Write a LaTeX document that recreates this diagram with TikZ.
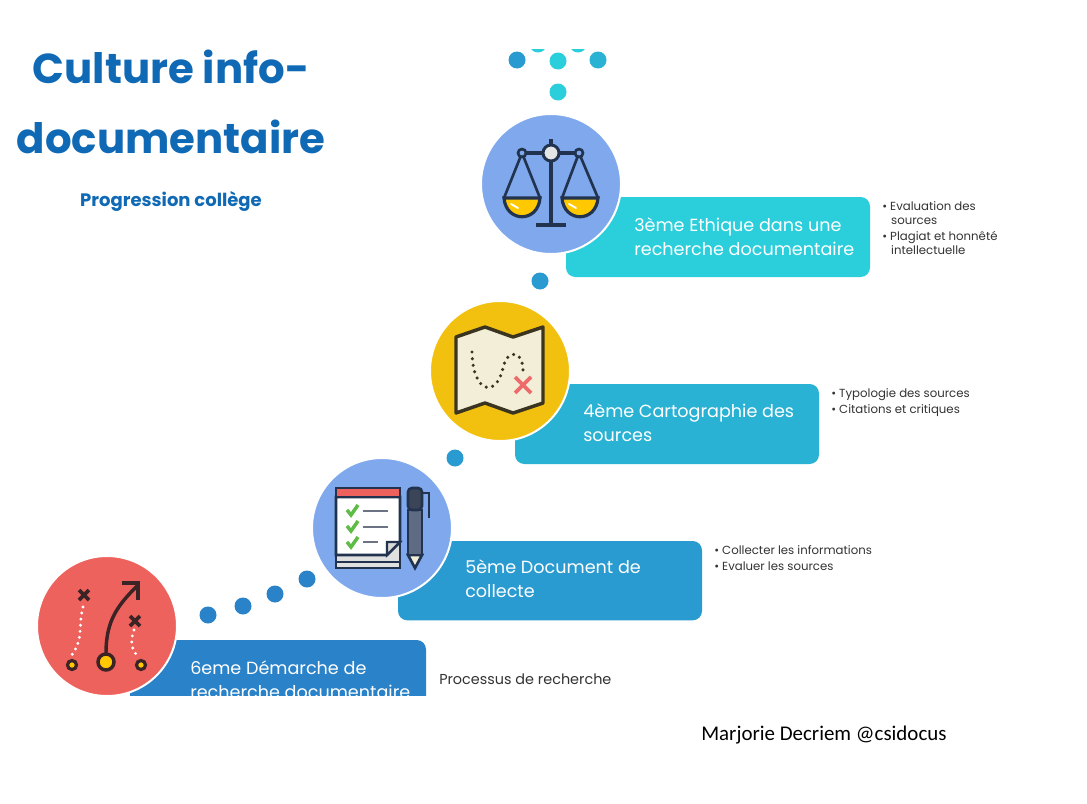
\documentclass[tikz,border=0pt]{standalone}
\usepackage{fontspec}
\setmainfont{Poppins}
\newfontfamily\notefont{Carlito}
\definecolor{titleblue}{HTML}{0F69B4}
\definecolor{barA}{HTML}{2BCEDB}
\definecolor{barB}{HTML}{29B2D3}
\definecolor{barC}{HTML}{2A9BD0}
\definecolor{barD}{HTML}{2A82C8}
\definecolor{discblue}{HTML}{7FA9EC}
\definecolor{discyellow}{HTML}{F2C10F}
\definecolor{discred}{HTML}{EE625D}
\definecolor{inkblue}{HTML}{22334F}
\definecolor{inkbrown}{HTML}{3A3420}
\definecolor{inkred}{HTML}{3B2326}
\definecolor{pangold}{HTML}{FFC800}
\definecolor{mapcream}{HTML}{F3EED8}
\definecolor{crossred}{HTML}{EE6B6B}
\definecolor{tickgreen}{HTML}{5DBB46}
\definecolor{sidegrey}{HTML}{333333}
\definecolor{pendark}{HTML}{3C4557}
\definecolor{penmid}{HTML}{5F6B82}
\definecolor{linegrey}{HTML}{6B7385}
\begin{document}
\begin{tikzpicture}[
        x=0.75pt, y=-0.75pt,
        disc/.style={circle, draw=white, line width=1.5pt, minimum size=105pt, inner sep=0pt, outer sep=0pt},
        bar/.style={rectangle, rounded corners=7pt, anchor=north west, minimum width=228pt, minimum height=60pt, inner sep=0pt, outer sep=0pt},
        dotnode/.style={circle, minimum size=12.75pt, inner sep=0pt, outer sep=0pt},
        barlabel/.style={anchor=west, align=left, text=white, inner sep=0pt, font=\fontsize{13.2pt}{18pt}\selectfont},
        sidelabel/.style={anchor=north west, align=left, text=sidegrey, inner sep=0pt, font=\fontsize{8.8pt}{10.6pt}\selectfont},
        titlelabel/.style={text=titleblue, inner sep=0pt, font=\fontsize{31.4pt}{40pt}\selectfont\bfseries}
      ]
        \fill[white] (0,0) rectangle (1087,803);
        \useasboundingbox (0,0) rectangle (1087,803);

        \begin{scope}
        \clip (0,49) rectangle (1087,695);

        % Dots along the stairs
        \node[dotnode, fill=barA] (topA) at (538,44) {};
        \node[dotnode, fill=barA] (topB) at (578,44) {};
        \node[dotnode, fill=barC] (topC) at (517,60) {};
        \node[dotnode, fill=barA] (topD) at (558,61) {};
        \node[dotnode, fill=barB] (topE) at (598,60) {};
        \node[dotnode, fill=barA] (topF) at (558,92) {};
        \node[dotnode, fill=barC] (stepA) at (540,281) {};
        \node[dotnode, fill=barC] (stepB) at (455,458) {};
        \node[dotnode, fill=barD] (stepC) at (307,579) {};
        \node[dotnode, fill=barD] (stepD) at (275,594) {};
        \node[dotnode, fill=barD] (stepE) at (243,606) {};
        \node[dotnode, fill=barD] (stepF) at (208,615) {};

        % The four bars
        \node[bar, fill=barA] (barthree) at (566,197) {};
        \node[bar, fill=barB] (barfour) at (515,384) {};
        \node[bar, fill=barC, minimum height=59.5pt] (barfive) at (398,541) {};
        \node[bar, fill=barD, minimum width=222pt] (barsix) at (130,640) {};

        % The four discs
        \node[disc, fill=discblue] (discscale) at (551,184) {};
        \node[disc, fill=discyellow] (discmap) at (500,371) {};
        \node[disc, fill=discblue] (disclist) at (382,528) {};
        \node[disc, fill=discred] (disctactic) at (107,626) {};

        % Scale
        \draw[inkblue, line width=2.4pt] (551,139) -- (551,225);
        \draw[inkblue, line width=2.4pt] (536,225) -- (566,225);
        \draw[inkblue, line width=2.4pt] (522,153) -- (579,153);
        \draw[inkblue, line width=2pt] (504,198) -- (522,153) -- (540,198);
        \draw[inkblue, line width=2pt] (562,198) -- (579,153) -- (598,198);
        \draw[inkblue, line width=2.4pt, fill=pangold] (504,198) .. controls (506,223) and (538,223) .. (540,198) -- cycle;
        \draw[inkblue, line width=2.4pt, fill=pangold] (562,198) .. controls (564,223) and (596,223) .. (598,198) -- cycle;
        \draw[white, line width=1.4pt, line cap=round] (511,204) -- (518,208);
        \draw[white, line width=1.4pt, line cap=round] (569,204) -- (576,208);
        \draw[inkblue, line width=2pt, fill=discblue] (522,153) circle (4);
        \draw[inkblue, line width=2pt, fill=discblue] (579,153) circle (4);
        \draw[inkblue, line width=2.2pt, fill=black!10] (551,153) circle (8);

        % Map
        \draw[inkbrown, line width=2.6pt, line join=round, fill=mapcream] (456,337) -- (485,327) -- (513,337) -- (543,327) -- (543,403) -- (513,413) -- (485,403) -- (456,413) -- cycle;
        \draw[inkbrown, line width=2.6pt, line cap=round, dash pattern=on 0pt off 5pt] (472,352) .. controls (473,395) and (497,397) .. (503,368) .. controls (507,348) and (524,350) .. (523,373);
        \draw[crossred, line width=2.8pt] (515,377) -- (531,393) (531,377) -- (515,393);

        % Checklist
        \draw[inkblue, line width=2.2pt, fill=black!12] (336,488) rectangle (400,568);
        \draw[inkblue, line width=2pt, fill=white] (336,497) -- (400,497) -- (400,542) -- (387,555) -- (336,555) -- cycle;
        \draw[inkblue, line width=1.8pt, fill=black!15] (387,555) -- (387,542) -- (400,542) -- cycle;
        \draw[inkblue, line width=2.2pt, fill=discred] (336,488) rectangle (400,497);
        \draw[inkblue, line width=1.4pt] (336,562) -- (400,562);
        \draw[tickgreen, line width=2.6pt] (347,510) -- (351,515) -- (358,505);
        \draw[tickgreen, line width=2.6pt] (347,526) -- (351,531) -- (358,521);
        \draw[tickgreen, line width=2.6pt] (347,542) -- (351,547) -- (358,537);
        \draw[linegrey, line width=2.2pt] (363,511) -- (388,511);
        \draw[linegrey, line width=2.2pt] (363,527) -- (388,527);
        \draw[linegrey, line width=2.2pt] (363,542) -- (378,542);

        % Pen
        \draw[inkblue, line width=1.8pt] (422,493) -- (429,493) -- (429,518);
        \draw[inkblue, line width=2pt, fill=mapcream] (408,555) -- (415,568) -- (422,555) -- cycle;
        \draw[inkblue, line width=2pt, fill=penmid] (408,510) rectangle (422,555);
        \draw[inkblue, line width=2pt, rounded corners=3pt, fill=pendark] (408,510) -- (408,488) -- (422,488) -- (422,510) -- cycle;

        % Tactics
        \draw[white, line width=2.4pt, line cap=round, dash pattern=on 0pt off 4.6pt] (83,607) .. controls (78,625) and (84,640) .. (71,656);
        \draw[white, line width=2.4pt, line cap=round, dash pattern=on 0pt off 4.6pt] (134,630) .. controls (130,640) and (131,650) .. (138,656);
        \draw[inkred, line width=2.6pt] (106,653) .. controls (106,620) and (118,605) .. (138,585);
        \draw[inkred, line width=2.6pt] (122,583) -- (138,583) -- (138,600);
        \draw[inkred, line width=2.8pt] (79,590) -- (89,600) (89,590) -- (79,600);
        \draw[inkred, line width=2.8pt] (130,616) -- (140,626) (140,616) -- (130,626);
        \draw[inkred, line width=2.6pt, fill=pangold] (106,662) circle (8);
        \draw[inkred, line width=2.4pt, fill=pangold] (72,665) circle (4.5);
        \draw[inkred, line width=2.4pt, fill=pangold] (141,665) circle (4.5);

        % Bar labels
        \node[barlabel] (labelthree) at (634,237) {3ème Ethique dans une\\recherche documentaire};
        \node[barlabel] (labelfour) at (583,423) {4ème Cartographie des\\sources};
        \node[barlabel] (labelfive) at (465,579) {5ème Document de\\collecte};
        \node[barlabel] (labelsix) at (190,680) {6eme Démarche de\\recherche documentaire};
        \end{scope}

        % Side notes
        \node[sidelabel] (notethree) at (882,201) {• Evaluation des\\\hspace*{6.7pt}sources\\[1.5pt]• Plagiat et honnêté\\\hspace*{6.7pt}intellectuelle};
        \node[sidelabel] (notefour) at (831,388) {• Typologie des sources\\[1.5pt]• Citations et critiques};
        \node[sidelabel] (notefive) at (714,545) {• Collecter les informations\\[1.5pt]• Evaluer les sources};
        \node[anchor=west, text=sidegrey, inner sep=0pt, font=\fontsize{10.8pt}{14pt}\selectfont] (notesix) at (439,679) {Processus de recherche};

        % Title and signature
        \node[titlelabel] (titleA) at (171,67) {Culture info-};
        \node[titlelabel] (titleB) at (171,137) {documentaire};
        \node[text=titleblue, inner sep=0pt, font=\fontsize{13.5pt}{16pt}\selectfont\bfseries] (subtitle) at (171,201) {Progression collège};
        \node[anchor=west, inner sep=0pt, font=\notefont\fontsize{15.7pt}{18pt}\selectfont] (signature) at (701,735) {Marjorie Decriem @csidocus};
      \end{tikzpicture}
\end{document}
